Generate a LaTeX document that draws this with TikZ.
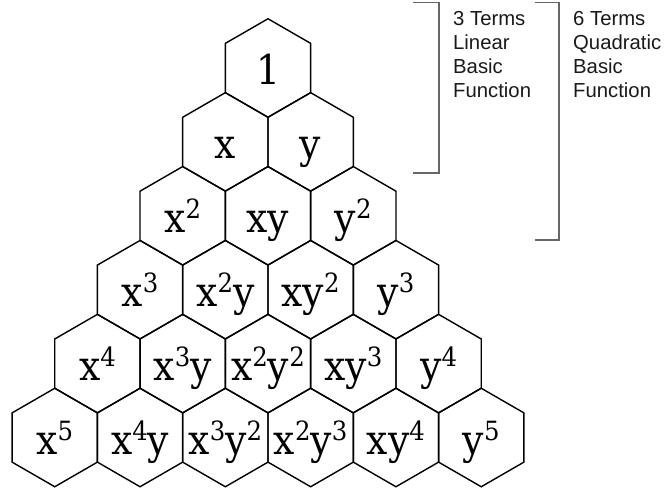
\documentclass[tikz,border=0pt]{standalone}
\usepackage{fontspec}
\setmainfont{DejaVu Serif}[FakeStretch=0.92]
\newfontfamily\labelfont{Liberation Sans}
\usetikzlibrary{shapes.geometric}
\newcommand\pw[1]{\raisebox{14pt}{\fontsize{26.5}{26.5}\selectfont #1}}
\tikzset{
  hexcell/.style={regular polygon, regular polygon sides=6, shape border rotate=30,
    minimum size=98.5pt, inner sep=0pt, outer sep=0pt, draw=black, line width=1.4pt},
  term/.style={anchor=base, inner sep=0pt, font=\fontsize{41}{41}\selectfont},
  note/.style={anchor=base west, inner sep=0pt, font=\labelfont\fontsize{20.3}{24}\selectfont, text=black!90},
  bracket/.style={draw=black!60, line width=1.2pt}
}
\begin{document}
\begin{tikzpicture}[x=1pt,y=-1pt]
\useasboundingbox (0,0) rectangle (665,490);
\def\hp{85.3}
\def\vp{73.9}
\foreach \r/\labels in {1/{1},2/{x,y},3/{x\pw{2},xy,y\pw{2}},
  4/{x\pw{3},x\pw{2}y,xy\pw{2},y\pw{3}},
  5/{x\pw{4},x\pw{3}y,x\pw{2}y\pw{2},xy\pw{3},y\pw{4}},
  6/{x\pw{5},x\pw{4}y,x\pw{3}y\pw{2},x\pw{2}y\pw{3},xy\pw{4},y\pw{5}}}{
  \foreach \t [count=\k from 0] in \labels {
    \pgfmathsetmacro\cx{268+(\k-(\r-1)/2)*\hp}
    \pgfmathsetmacro\cy{68+(\r-1)*\vp}
    \node[hexcell] (h-\r-\k) at (\cx,\cy) {};
    \node[term] (t-\r-\k) at (\cx,\cy+16.5) {\t};
  }
}
% brackets
\draw[bracket] (413,2.5) -- (439,2.5) -- (439,173) -- (413,173);
\draw[bracket] (535,2.5) -- (559,2.5) -- (559,240) -- (535,240);
% notes
\node[note] (a1) at (453,25) {3 Terms};
\node[note] (a2) at (453,49.3) {Linear};
\node[note] (a3) at (453,73.6) {Basic};
\node[note] (a4) at (453,97.9) {Function};
\node[note] (b1) at (573,25) {6 Terms};
\node[note] (b2) at (573,49.3) {Quadratic};
\node[note] (b3) at (573,73.6) {Basic};
\node[note] (b4) at (573,97.9) {Function};
\end{tikzpicture}
\end{document}
